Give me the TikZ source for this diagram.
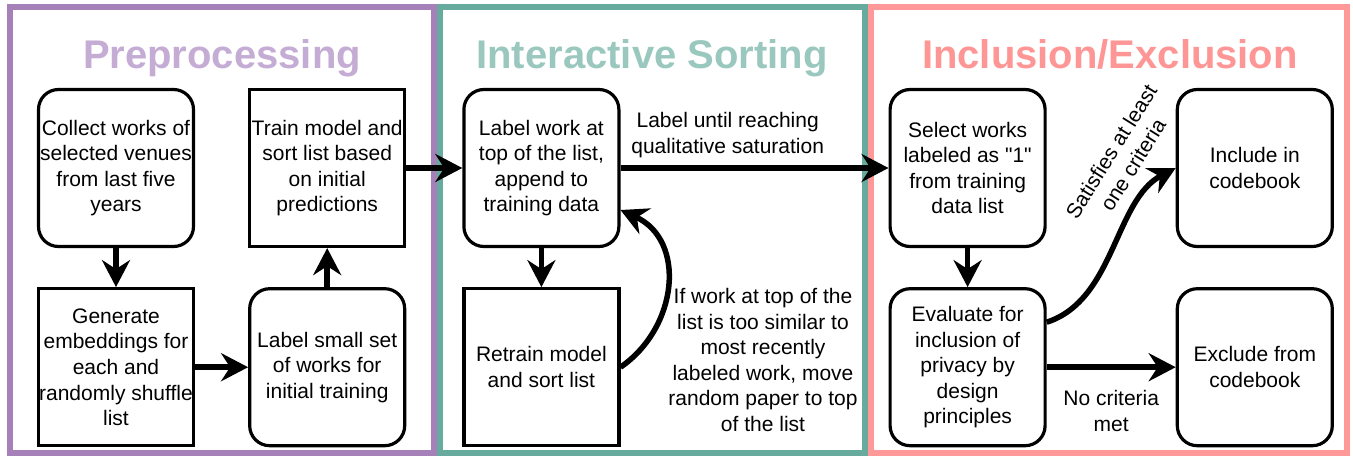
\documentclass[tikz,border=0pt]{standalone}
\usepackage{fontspec}
\setmainfont{Liberation Sans}[Ligatures=TeXOff]
\usepackage{tikz}
\usetikzlibrary{arrows.meta, positioning}
\definecolor{prepline}{RGB}{166, 128, 184}
\definecolor{preptext}{RGB}{196, 172, 212}
\definecolor{sortline}{RGB}{103, 171, 159}
\definecolor{sorttext}{RGB}{154, 200, 190}
\definecolor{inclline}{RGB}{255, 153, 153}
\definecolor{incltext}{RGB}{255, 150, 150}

\begin{document}
\begin{tikzpicture}[x=1pt, y=-1pt, node distance=39pt and 53pt,
  every node/.style={font=\fontsize{21}{25.6}\selectfont, align=center},
  roundbox/.style={draw, line width=3.2pt, rounded corners=20pt,
        minimum width=155pt, minimum height=157pt, inner sep=0pt},
  sqbox/.style={draw, line width=3.2pt,
        minimum width=155pt, minimum height=157pt, inner sep=0pt},
  flow/.style={line width=5.5pt, -{Stealth[length=27pt, width=28pt, inset=9pt]}},
  panel/.style={line width=6pt},
  heading/.style={font=\fontsize{40}{44}\selectfont\bfseries, anchor=base}]
  \useasboundingbox (0,0) rectangle (1353,459);

  \draw[panel, prepline] (10,7) rectangle (434,453);
  \draw[panel, sortline] (440,7) rectangle (865,453);
  \draw[panel, inclline] (871,7) rectangle (1347,453);

  \node[heading, text=preptext] (prephead) at (222,68) {Preprocessing};
  \node[heading, text=sorttext] (sorthead) at (652,68) {Interactive Sorting};
  \node[heading, text=incltext] (inclhead) at (1110,68) {Inclusion/Exclusion};

  \node[roundbox] (collect) at (116,168)
    {Collect works of\\selected venues\\from last five\\years};
  \node[sqbox, below=of collect] (generate)
    {Generate\\embeddings for\\each and\\randomly shuffle\\list};
  \node[sqbox, right=of collect] (train)
    {Train model and\\sort list based\\on initial\\predictions};
  \node[roundbox, below=of train] (labelsmall)
    {Label small set\\of works for\\initial training};
  \node[roundbox, right=56pt of train] (labelwork)
    {Label work at\\top of the list,\\append to\\training data};
  \node[sqbox, below=of labelwork] (retrain) {Retrain model\\and sort list};
  \node[roundbox, right=268pt of labelwork] (select)
    {Select works\\labeled as "1"\\from training\\data list};
  \node[roundbox, below=of select] (evaluate)
    {Evaluate for\\inclusion of\\privacy by\\design\\principles};
  \node[roundbox, right=129pt of select] (include) {Include in\\codebook};
  \node[roundbox, below=of include] (exclude) {Exclude from\\codebook};

  \draw[flow] (collect) -- (generate);
  \draw[flow] (generate) -- (labelsmall);
  \draw[flow] (labelsmall) -- (train);
  \draw[flow] (train) -- (labelwork);
  \draw[flow] (labelwork) -- (retrain);
  \draw[flow] (labelwork) -- node[pos=0.4, above=4pt]
    {Label until reaching\\qualitative saturation} (select);
  \draw[flow] (retrain.east) .. controls +(58,-40) and +(66,30)
    .. ([yshift=-42pt]labelwork.east);
  \node (simlabel) at (763,360)
    {If work at top of the\\list is too similar to\\most recently\\labeled work, move\\random paper to top\\of the list};
  \draw[flow] (select) -- (evaluate);
  \draw[flow] (evaluate) -- node[midway, below=17pt] {No criteria\\met} (exclude);
  \draw[flow] ([yshift=45pt]evaluate.east) .. controls +(68,-22) and +(-61,32)
    .. (include.west);
  \node[rotate=58] (critlabel) at (1122,158) {Satisfies at least\\one criteria};
\end{tikzpicture}
\end{document}
